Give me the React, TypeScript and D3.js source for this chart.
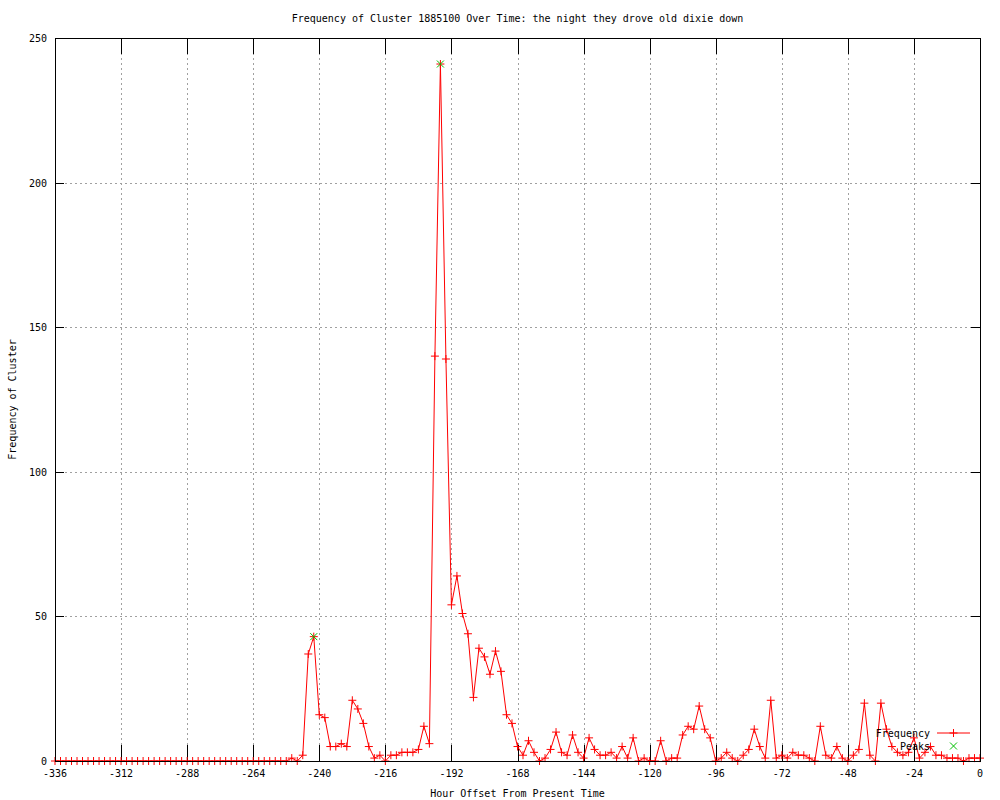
import * as d3 from "d3";

const title = "Frequency of Cluster 1885100 Over Time: the night they drove old dixie down";
const xLabel = "Hour Offset From Present Time";
const yLabel = "Frequency of Cluster";

// one value every 2 hours, from -336 up to 0
const hours = d3.range(-336, 1, 2);
const frequency = [
  0, 0, 0, 0, 0, 0, 0, 0, 0, 0, 0, 0, 0, 0, 0, 0, 0, 0, 0, 0, 0,
  0, 0, 0, 0, 0, 0, 0, 0, 0, 0, 0, 0, 0, 0, 0, 0, 0, 0, 0, 0,
  0, 0, 1, 0, 2, 37, 43, 16, 15, 5, 5, 6, 5, 21, 18, 13, 5, 1, 2, 0,
  2, 2, 3, 3, 3, 4, 12, 6, 140, 241, 139, 54, 64, 51, 44, 22, 39, 36, 30, 38,
  31, 16, 13, 5, 2, 7, 3, 0, 1, 4, 10, 3, 2, 9, 3, 1, 8, 4, 2, 2,
  3, 1, 5, 1, 8, 0, 1, 0, 0, 7, 0, 1, 1, 9, 12, 11, 19, 11, 8, 0,
  1, 3, 1, 0, 2, 4, 11, 5, 1, 21, 1, 2, 1, 3, 2, 2, 1, 0, 12, 2,
  1, 5, 1, 0, 2, 4, 20, 2, 0, 20, 11, 5, 3, 2, 3, 8, 1, 3, 5, 2,
  2, 1, 1, 1, 0, 1, 1, 1,
];
const peakHours = [-242, -196];
const peakValues = [43, 241];

const xTicks = [-336, -312, -288, -264, -240, -216, -192, -168, -144, -120, -96, -72, -48, -24, 0];
const yTicks = [0, 50, 100, 150, 200, 250];

const W = 1000;
const H = 800;
const margin = { top: 38, right: 20, bottom: 39, left: 55 };
const font = "'DejaVu Sans Mono', monospace";

export default function App() {
  const x = d3.scaleLinear().domain([-336, 0]).range([margin.left, W - margin.right]);
  const y = d3.scaleLinear().domain([0, 250]).range([H - margin.bottom, margin.top]);

  const points = hours.map((h, i) => [h, frequency[i]] as [number, number]);
  const line = d3.line<[number, number]>()
    .x(d => x(d[0]))
    .y(d => y(d[1]));

  const x0 = x(-336), x1 = x(0), y0 = y(0), y1 = y(250);
  const plus = (cx: number, cy: number, r = 4) => `M${cx - r},${cy}H${cx + r}M${cx},${cy - r}V${cy + r}`;
  const cross = (cx: number, cy: number, r = 3.5) =>
    `M${cx - r},${cy - r}L${cx + r},${cy + r}M${cx - r},${cy + r}L${cx + r},${cy - r}`;

  return (
    <div style={{ position: "absolute", left: 0, top: 0 }}>
      <svg width={W} height={H} style={{ display: "block", background: "#fff" }}>
        {/* grid */}
        <g stroke="#a0a0a0" strokeWidth={1} strokeDasharray="2,3" shapeRendering="crispEdges">
          {xTicks.slice(1, -1).map(t => (
            <line key={"gx" + t} x1={Math.round(x(t)) + 0.5} x2={Math.round(x(t)) + 0.5} y1={y1} y2={y0} />
          ))}
          {yTicks.slice(1, -1).map(t => (
            <line key={"gy" + t} x1={x0} x2={x1} y1={Math.round(y(t)) + 0.5} y2={Math.round(y(t)) + 0.5} />
          ))}
        </g>

        {/* ticks, mirrored on both sides */}
        <g stroke="#000" strokeWidth={1} shapeRendering="crispEdges">
          {xTicks.map(t => (
            <g key={"tx" + t}>
              <line x1={Math.round(x(t)) + 0.5} x2={Math.round(x(t)) + 0.5} y1={y0} y2={y0 - 16} />
              <line x1={Math.round(x(t)) + 0.5} x2={Math.round(x(t)) + 0.5} y1={y1} y2={y1 + 16} />
            </g>
          ))}
          {yTicks.map(t => (
            <g key={"ty" + t}>
              <line x1={x0} x2={x0 + 9} y1={Math.round(y(t)) + 0.5} y2={Math.round(y(t)) + 0.5} />
              <line x1={x1} x2={x1 - 9} y1={Math.round(y(t)) + 0.5} y2={Math.round(y(t)) + 0.5} />
            </g>
          ))}
        </g>

        {/* tick labels */}
        <g fontFamily={font} fontSize={10} fill="#000">
          {xTicks.map(t => (
            <text key={"lx" + t} x={x(t)} y={y0 + 16} textAnchor="middle">{t}</text>
          ))}
          {yTicks.map(t => (
            <text key={"ly" + t} x={x0 - 8} y={y(t) + 4} textAnchor="end">{t}</text>
          ))}
        </g>

        {/* data */}
        <path d={line(points) ?? ""} fill="none" stroke="#ff0000" strokeWidth={1} />
        <path d={points.map(p => plus(x(p[0]), y(p[1]))).join("")} stroke="#ff0000" strokeWidth={1} fill="none" />
        <path d={peakHours.map((h, i) => cross(x(h), y(peakValues[i]))).join("")} stroke="#00c000" strokeWidth={1} fill="none" />

        {/* legend */}
        <g fontFamily={font} fontSize={10} fill="#000">
          <text x={930} y={737} textAnchor="end">Frequency</text>
          <text x={930} y={750} textAnchor="end">Peaks</text>
        </g>
        <line x1={937} x2={970} y1={733} y2={733} stroke="#ff0000" strokeWidth={1} />
        <path d={plus(953.5, 733)} stroke="#ff0000" strokeWidth={1} />
        <path d={cross(953.5, 746)} stroke="#00c000" strokeWidth={1} />

        {/* border */}
        <rect x={x0 + 0.5} y={y1 + 0.5} width={x1 - x0} height={y0 - y1} fill="none" stroke="#000" strokeWidth={1} shapeRendering="crispEdges" />

        {/* titles */}
        <text x={(x0 + x1) / 2} y={22} textAnchor="middle" fontFamily={font} fontSize={10}>{title}</text>
        <text x={(x0 + x1) / 2} y={797} textAnchor="middle" fontFamily={font} fontSize={10}>{xLabel}</text>
        <text transform={`translate(16,${(y0 + y1) / 2}) rotate(-90)`} textAnchor="middle" fontFamily={font} fontSize={10}>{yLabel}</text>
      </svg>
    </div>
  );
}
